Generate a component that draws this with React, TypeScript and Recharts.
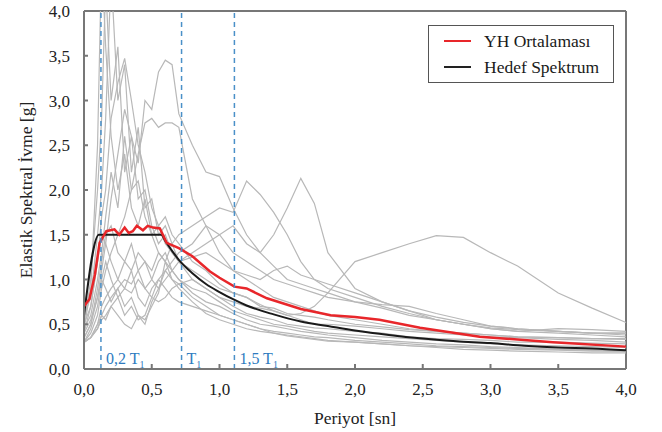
import {
  LineChart,
  Line,
  XAxis,
  YAxis,
  ReferenceLine,
  Legend,
} from "recharts";

// period grid shared by the ground motion records [sn]
const periods = [
  0, 0.05, 0.1, 0.13, 0.16, 0.2, 0.25, 0.3, 0.35, 0.4, 0.45, 0.5, 0.55, 0.6,
  0.65, 0.7, 0.8, 0.9, 1.0, 1.1, 1.2, 1.3, 1.4, 1.5, 1.6, 1.7, 1.8, 2.0, 2.2,
  2.4, 2.6, 2.8, 3.0, 3.2, 3.5, 3.75, 4.0,
];

// scaled record spectra [g]
const r1 = [0.45, 0.9, 2.5, 4.6, 3.6, 2.6, 2.0, 2.4, 1.8, 1.6, 1.9, 1.5, 1.3, 1.2, 1.1, 1.0, 0.85, 0.75, 0.7, 0.62, 0.55, 0.5, 0.48, 0.45, 0.42, 0.4, 0.38, 0.35, 0.32, 0.3, 0.28, 0.27, 0.25, 0.24, 0.22, 0.21, 0.2];
const r2 = [0.5, 1.0, 2.0, 2.8, 4.3, 3.0, 3.6, 2.2, 2.6, 1.9, 2.0, 1.6, 1.4, 1.5, 1.3, 1.2, 1.0, 0.9, 0.8, 0.7, 0.62, 0.58, 0.55, 0.5, 0.48, 0.46, 0.45, 0.42, 0.4, 0.36, 0.34, 0.33, 0.32, 0.3, 0.3, 0.29, 0.28];
const r3 = [0.6, 0.8, 1.5, 2.0, 2.8, 4.4, 3.0, 3.4, 2.2, 2.7, 1.8, 1.9, 1.5, 1.6, 1.4, 1.2, 1.1, 1.0, 0.9, 0.85, 0.8, 0.72, 0.65, 0.6, 0.55, 0.5, 0.5, 0.48, 0.45, 0.42, 0.4, 0.38, 0.36, 0.35, 0.33, 0.32, 0.3];
const r4 = [0.4, 0.7, 1.2, 1.7, 2.0, 2.8, 3.2, 3.47, 3.0, 2.5, 2.2, 1.8, 1.6, 1.7, 1.5, 1.4, 1.2, 1.1, 0.95, 0.85, 0.8, 0.7, 0.68, 0.62, 0.6, 0.58, 0.55, 0.5, 0.47, 0.44, 0.42, 0.4, 0.38, 0.36, 0.35, 0.34, 0.34];
const r5 = [0.35, 0.5, 0.8, 1.1, 1.4, 1.9, 2.4, 2.9, 2.6, 2.3, 3.0, 2.9, 3.32, 3.45, 3.4, 2.85, 2.5, 2.2, 2.15, 1.8, 1.5, 1.3, 1.15, 1.0, 0.95, 0.9, 0.85, 0.75, 0.68, 0.6, 0.55, 0.5, 0.46, 0.44, 0.42, 0.4, 0.4];
const r6 = [0.3, 0.4, 0.6, 0.9, 1.1, 1.3, 1.5, 1.7, 2.0, 2.4, 2.75, 2.8, 2.7, 2.75, 2.75, 2.7, 1.9, 1.6, 1.3, 1.1, 1.0, 0.9, 0.8, 0.75, 0.7, 0.65, 0.6, 0.55, 0.5, 0.45, 0.42, 0.4, 0.38, 0.36, 0.35, 0.34, 0.33];
const r7 = [0.3, 0.35, 0.5, 0.7, 0.8, 0.9, 1.0, 1.2, 1.1, 1.3, 1.2, 1.1, 1.3, 1.2, 1.4, 1.5, 1.6, 1.7, 1.8, 1.75, 2.1, 1.95, 1.75, 1.5, 1.2, 1.0, 0.9, 0.8, 0.7, 0.62, 0.55, 0.5, 0.45, 0.42, 0.4, 0.38, 0.36];
const r8 = [0.3, 0.35, 0.45, 0.6, 0.7, 0.8, 0.9, 1.0, 0.95, 1.1, 1.2, 1.0, 0.9, 1.0, 1.1, 1.2, 1.3, 1.4, 1.5, 1.6, 1.4, 1.3, 1.5, 1.8, 2.13, 1.85, 1.3, 0.9, 0.75, 0.65, 0.58, 0.52, 0.48, 0.45, 0.42, 0.4, 0.4];
const r9 = [0.3, 0.35, 0.45, 0.55, 0.6, 0.7, 0.8, 0.9, 0.85, 1.0, 0.9, 0.8, 0.75, 0.8, 0.9, 0.95, 1.0, 0.9, 0.8, 0.75, 0.7, 0.68, 0.65, 0.6, 0.62, 0.7, 0.85, 1.2, 1.3, 1.4, 1.49, 1.47, 1.3, 1.15, 0.85, 0.68, 0.52];
const r10 = [0.5, 0.7, 1.2, 1.5, 1.4, 1.2, 1.0, 0.9, 1.1, 0.8, 0.7, 0.9, 1.0, 0.9, 0.8, 0.75, 0.7, 0.65, 0.6, 0.55, 0.5, 0.45, 0.42, 0.4, 0.38, 0.36, 0.35, 0.32, 0.3, 0.28, 0.26, 0.25, 0.24, 0.23, 0.22, 0.21, 0.2];
const r11 = [0.35, 0.5, 0.9, 1.2, 1.5, 1.6, 1.3, 1.2, 1.4, 1.1, 0.9, 1.0, 1.2, 1.3, 1.1, 1.0, 0.9, 0.85, 0.75, 0.65, 0.6, 0.55, 0.5, 0.48, 0.45, 0.42, 0.4, 0.38, 0.36, 0.34, 0.32, 0.3, 0.28, 0.27, 0.26, 0.25, 0.24];
const r12 = [0.3, 0.45, 0.7, 1.0, 1.2, 1.0, 0.8, 0.6, 0.7, 0.55, 0.6, 0.8, 1.0, 1.1, 1.2, 1.3, 1.4, 1.6, 1.5, 1.3, 1.2, 1.1, 1.0, 0.95, 0.9, 0.85, 0.8, 0.75, 0.72, 0.7, 0.62, 0.55, 0.48, 0.45, 0.42, 0.4, 0.38];
const r13 = [0.45, 0.6, 1.0, 1.3, 1.7, 2.2, 1.8, 2.6, 2.0, 2.1, 1.7, 1.5, 1.6, 1.4, 1.3, 1.2, 1.25, 1.3, 1.2, 1.1, 1.05, 1.0, 1.1, 1.15, 1.05, 1.0, 0.95, 0.85, 0.75, 0.65, 0.55, 0.5, 0.45, 0.42, 0.45, 0.44, 0.42];
const r14 = [0.3, 0.35, 0.5, 0.6, 0.55, 0.7, 0.6, 0.5, 0.45, 0.6, 0.5, 0.75, 0.9, 1.1, 1.0, 0.95, 0.8, 0.7, 0.6, 0.55, 0.5, 0.45, 0.4, 0.38, 0.36, 0.34, 0.32, 0.3, 0.28, 0.26, 0.24, 0.22, 0.21, 0.2, 0.19, 0.18, 0.18];
const r15 = [0.4, 0.55, 0.8, 1.0, 0.9, 0.75, 0.9, 0.7, 0.8, 0.6, 0.55, 0.7, 0.85, 1.2, 1.0, 0.9, 0.75, 0.62, 0.55, 0.5, 0.45, 0.42, 0.4, 0.37, 0.35, 0.33, 0.31, 0.3, 0.28, 0.26, 0.25, 0.24, 0.23, 0.22, 0.21, 0.2, 0.2];

const records = [r1, r2, r3, r4, r5, r6, r7, r8, r9, r10, r11, r12, r13, r14, r15];

// mean of the records (YH Ortalaması)
const meanPeriods = [0, 0.04, 0.08, 0.115, 0.165, 0.225, 0.26, 0.3, 0.33, 0.36, 0.39, 0.435, 0.47, 0.51, 0.56, 0.61, 0.7, 0.8, 0.93, 1.0, 1.11, 1.2, 1.35, 1.6, 1.82, 2.0, 2.18, 2.48, 2.92, 3.46, 4.0];
const meanValues = [0.7, 0.78, 1.05, 1.41, 1.54, 1.56, 1.5, 1.58, 1.52, 1.54, 1.6, 1.55, 1.6, 1.58, 1.57, 1.41, 1.35, 1.26, 1.09, 1.02, 0.92, 0.9, 0.79, 0.67, 0.6, 0.58, 0.55, 0.46, 0.36, 0.3, 0.25];

// design target spectrum (Hedef Spektrum)
const targetPeriods = [0, 0.11, 0.57, 0.6, 0.65, 0.7, 0.8, 0.9, 1.0, 1.1, 1.2, 1.4, 1.6, 1.8, 2.0, 2.25, 2.5, 2.75, 3.0, 3.25, 3.5, 3.75, 4.0];
const targetValues = [0.6, 1.5, 1.5, 1.43, 1.32, 1.22, 1.07, 0.95, 0.86, 0.78, 0.71, 0.61, 0.53, 0.48, 0.43, 0.38, 0.34, 0.31, 0.29, 0.26, 0.24, 0.23, 0.21];

const axisTicks = [0, 0.5, 1, 1.5, 2, 2.5, 3, 3.5, 4];

// vertical markers: 0,2 T1 / T1 / 1,5 T1
const markerPeriods = [0.125, 0.72, 1.11];
const markerLabels = ["0,2 T", "T", "1,5 T"];

const recordRows = periods.map((T, i) => {
  const row: Record<string, number> = { T };
  records.forEach((r, k) => (row[`r${k + 1}`] = r[i]));
  return row;
});
const meanRows = meanPeriods.map((T, i) => ({ T, mean: meanValues[i] }));
const targetRows = targetPeriods.map((T, i) => ({ T, target: targetValues[i] }));

const fmt = (v: number) => v.toFixed(1).replace(".", ",");
const FONT = "Liberation Serif";
const BLUE = "#4a90c8";

function markerLabel(text: string) {
  return (props: any) => {
    const { x, y, height } = props.viewBox;
    return (
      <text x={x + 5} y={y + height - 5} fill="#2e7bbf" fontSize={16} fontFamily={FONT}>
        {text}
        <tspan fontSize={10} dy={4}>1</tspan>
      </text>
    );
  };
}

function LegendBox() {
  const items = [
    { name: "YH Ortalaması", color: "#e8262a" },
    { name: "Hedef Spektrum", color: "#222" },
  ];
  return (
    <div
      style={{
        border: "1.5px solid #555",
        background: "#fff",
        padding: "2px 0 2px 15px",
        fontFamily: FONT,
        fontSize: 17.5,
        color: "#1a1a1a",
      }}
    >
      {items.map((it) => (
        <div key={it.name} style={{ display: "flex", alignItems: "center", height: 26 }}>
          <span style={{ width: 27, height: 2, background: it.color, marginRight: 13 }} />
          {it.name}
        </div>
      ))}
    </div>
  );
}

export default function App() {
  return (
    <div style={{ position: "absolute", left: 0, top: 0, fontFamily: FONT }}>
      <LineChart
        width={662}
        height={432}
        margin={{ top: 11, right: 36, bottom: 7, left: 0 }}
        style={{ fontFamily: FONT }}
      >
        <XAxis
          dataKey="T"
          type="number"
          domain={[0, 4]}
          ticks={axisTicks}
          tickFormatter={fmt}
          allowDuplicatedCategory={false}
          height={56}
          stroke="#777"
          strokeWidth={2}
          tickSize={-5}
          tickMargin={19}
          tick={{ fontSize: 17, fill: "#222", fontFamily: FONT }}
          label={{ value: "Periyot [sn]", position: "insideBottom", offset: 1, fontSize: 17.5, fill: "#222", fontFamily: FONT }}
        />
        <YAxis
          type="number"
          domain={[0, 4]}
          ticks={axisTicks}
          tickFormatter={fmt}
          allowDataOverflow
          width={84}
          stroke="#777"
          strokeWidth={2}
          tickSize={-4}
          tickMargin={18}
          tick={{ fontSize: 17, fill: "#222", fontFamily: FONT }}
          label={{
            value: "Elastik Spektral İvme [g]",
            angle: -90,
            position: "insideLeft",
            offset: 26,
            fontSize: 17.5,
            fill: "#222",
            fontFamily: FONT,
            style: { textAnchor: "middle" },
          }}
        />
        <ReferenceLine y={4} stroke="#777" strokeWidth={2} />
        <ReferenceLine x={4} stroke="#777" strokeWidth={2} />
        {records.map((_, k) => (
          <Line
            key={k}
            data={recordRows}
            dataKey={`r${k + 1}`}
            type="linear"
            stroke="#b8b8b8"
            strokeWidth={1.2}
            dot={false}
            isAnimationActive={false}
            legendType="none"
          />
        ))}
        <Line
          data={targetRows}
          dataKey="target"
          name="Hedef Spektrum"
          type="monotone"
          stroke="#1a1a1a"
          strokeWidth={2}
          dot={false}
          isAnimationActive={false}
        />
        <Line
          data={meanRows}
          dataKey="mean"
          name="YH Ortalaması"
          type="linear"
          stroke="#e8262a"
          strokeWidth={2.5}
          dot={false}
          isAnimationActive={false}
        />
        {markerPeriods.map((p, i) => (
          <ReferenceLine
            key={p}
            x={p}
            stroke={BLUE}
            strokeWidth={1.5}
            strokeDasharray="5 4"
            label={markerLabel(markerLabels[i])}
          />
        ))}
        <Legend
          layout="vertical"
          align="center"
          verticalAlign="middle"
          content={() => <LegendBox />}
          wrapperStyle={{ top: 25, left: 428, width: 186, height: 55 }}
        />
      </LineChart>
    </div>
  );
}
